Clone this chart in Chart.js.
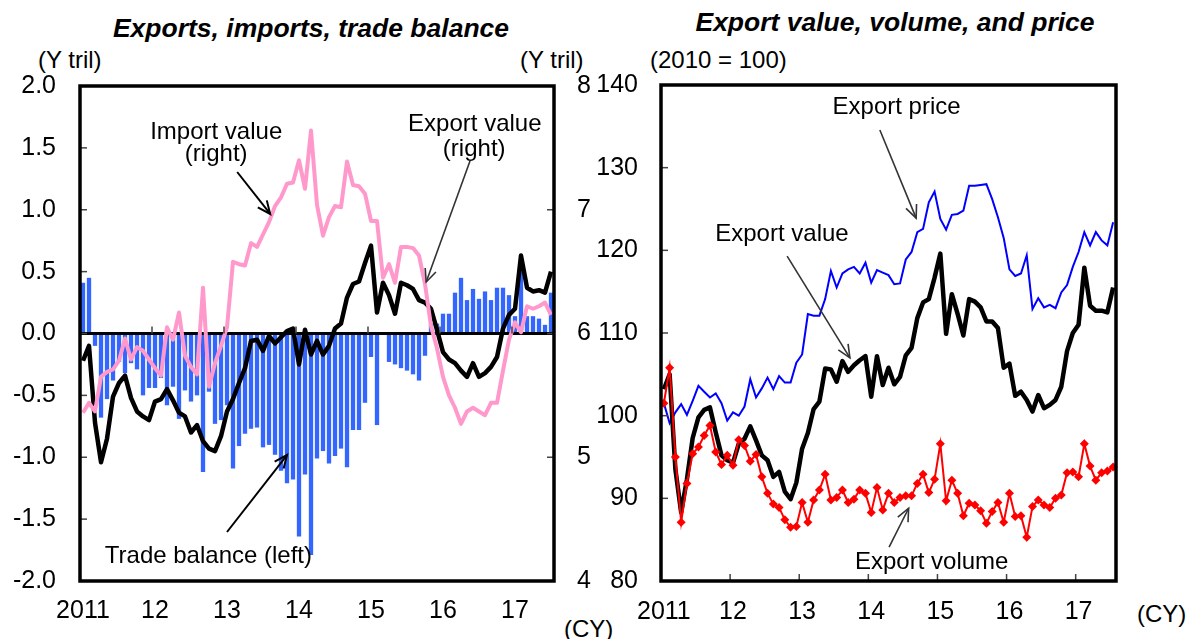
<!DOCTYPE html>
<html>
<head>
<meta charset="utf-8">
<script src="https://cdn.jsdelivr.net/npm/chart.js@4.4.1/dist/chart.umd.min.js"></script>
<style>
  html,body{margin:0;padding:0;background:#fff;}
  body{position:relative;width:1187px;height:639px;overflow:hidden;font-family:"Liberation Sans",Arial,sans-serif;color:#000;}
  canvas{position:absolute;top:0;}
  #c1{left:0;}
  #c2{left:590px;}
  .t{position:absolute;white-space:nowrap;line-height:1;font-size:24px;}
  .ttl{font-size:26.5px;font-weight:bold;font-style:italic;transform:translateX(-50%);}
</style>
</head>
<body>
<div class="t ttl" style="left:311px;top:15px;">Exports, imports, trade balance</div>
<div class="t ttl" style="left:895px;top:9px;">Export value, volume, and price</div>
<div class="t" style="left:38px;top:48px;">(Y tril)</div>
<div class="t" style="left:520px;top:48px;">(Y tril)</div>
<div class="t" style="left:650px;top:48px;">(2010 = 100)</div>
<div class="t" style="left:564px;top:617px;">(CY)</div>
<div class="t" style="left:1137px;top:602px;">(CY)</div>
<canvas id="c1" width="620" height="639"></canvas>
<canvas id="c2" width="597" height="639"></canvas>
<script>
// ---------- DATA (monthly, Jan 2011 - Jul 2017) ----------
const years = [2011, 2012, 2013, 2014, 2015, 2016, 2017];
const yearTickLabels = ['2011', '12', '13', '14', '15', '16', '17'];
const lastYearMonths = 7;

// Left panel: trade balance (left axis, Y tril)
const tradeBalance = [
  0.41, 0.45, -0.10, -0.68, -0.53, -0.38, -0.23, -0.32, -0.24, -0.29, -0.50, -0.44,
  -0.44, -0.36, -0.58, -0.43, -0.69, -0.46, -0.55, -0.50, -1.12, -0.47, -0.73, -0.70,
  -0.58, -1.09, -0.91, -0.81, -0.77, -0.76, -0.92, -0.90, -0.98, -1.11, -1.21, -1.18,
  -1.64, -1.14, -1.79, -1.01, -0.95, -1.05, -0.99, -0.93, -1.08, -0.78, -0.78, -0.56,
  -0.19, -0.74, 0.00, -0.23, -0.25, -0.28, -0.30, -0.33, -0.38, -0.18, 0.08, 0.08,
  0.16, 0.16, 0.33, 0.45, 0.27, 0.36, 0.28, 0.34, 0.27, 0.37, 0.37, 0.31,
  0.14, 0.55, 0.14, 0.14, 0.12, 0.07, 0.33
];
// Left panel: import value (right axis, Y tril)
const importValue = [
  5.36, 5.44, 5.37, 5.65, 5.69, 5.71, 5.78, 5.96, 5.79, 5.89, 5.86, 5.79,
  5.72, 5.66, 6.05, 5.95, 6.17, 5.82, 5.73, 5.67, 6.37, 5.57, 5.76, 5.90,
  6.05, 6.58, 6.56, 6.55, 6.73, 6.70, 6.80, 6.90, 7.03, 7.10, 7.21, 7.22,
  7.40, 7.17, 7.64, 7.04, 6.79, 6.94, 7.03, 7.02, 7.39, 7.20, 7.19, 7.13,
  6.91, 6.91, 6.45, 6.56, 6.41, 6.70, 6.70, 6.69, 6.63, 6.40, 6.06, 5.88,
  5.65, 5.50, 5.40, 5.27, 5.37, 5.40, 5.37, 5.34, 5.44, 5.44, 5.70, 5.95,
  6.09, 6.01, 6.22, 6.20, 6.22, 6.25, 6.15
];
// Left panel: export value (right axis, Y tril)
const exportValue = [
  5.78, 5.90, 5.28, 4.96, 5.15, 5.49, 5.60, 5.66, 5.48, 5.37, 5.33, 5.30,
  5.45, 5.47, 5.55, 5.46, 5.36, 5.33, 5.20, 5.26, 5.13, 5.07, 5.05, 5.17,
  5.37, 5.47, 5.60, 5.72, 5.94, 5.95, 5.86, 5.98, 5.92, 5.97, 6.02, 6.04,
  5.75, 6.03, 5.83, 5.94, 5.83, 5.90, 6.04, 6.08, 6.29, 6.40, 6.42, 6.57,
  6.71, 6.17, 6.41, 6.31, 6.16, 6.41, 6.39, 6.36, 6.27, 6.25, 6.20, 6.03,
  5.85, 5.79, 5.76, 5.70, 5.65, 5.76, 5.65, 5.68, 5.73, 5.81, 6.04, 6.15,
  6.20, 6.63, 6.37, 6.34, 6.35, 6.33, 6.50
];
// Right panel (2010 = 100)
const exportPriceIdx = [
  101.5, 99.1, 100.4, 101.4, 100.1, 101.8, 103.6, 102.9, 102.2, 102.7, 101.5, 99.4,
  100.4, 100.0, 101.1, 104.4, 102.2, 103.3, 104.6, 103.2, 104.8, 104.0, 104.0, 106.4,
  107.4, 112.3, 112.1, 112.1, 114.1, 117.5, 115.5, 117.2, 117.7, 118.0, 117.2, 118.5,
  116.1, 117.6, 117.3, 117.0, 115.9, 116.0, 118.9, 119.8, 122.2, 122.6, 125.8, 127.1,
  123.8, 122.5, 124.3, 124.4, 124.8, 127.8, 127.8, 127.9, 128.0, 126.2, 124.0, 121.5,
  117.7, 116.9, 117.2, 119.4, 112.9, 114.2, 113.1, 113.4, 113.0, 114.9, 115.8, 118.0,
  119.8, 122.2, 120.6, 122.2, 121.2, 120.6, 123.4
];
const exportValueIdx = [
  103.2, 105.0, 93.5, 88.3, 92.3, 97.3, 99.8, 100.7, 101.0, 98.0, 95.2, 94.6,
  94.3, 96.6, 97.2, 98.7, 97.0, 95.2, 94.6, 92.6, 93.2, 90.8, 89.9, 91.9,
  96.0, 97.9, 100.8, 101.7, 105.7, 105.6, 104.1, 106.6, 105.3, 106.1, 106.7, 107.2,
  102.3, 107.2, 103.7, 105.8, 103.8, 104.7, 107.3, 108.2, 111.8, 113.7, 114.1, 116.7,
  119.6, 109.9, 114.7, 112.3, 109.7, 114.1, 113.8, 113.1, 111.4, 111.4, 110.6, 105.8,
  106.3, 102.4, 102.9, 101.9, 100.5, 102.5, 100.9, 101.3, 101.9, 103.5, 107.8, 110.0,
  111.0, 117.9, 113.3, 112.7, 112.7, 112.5, 115.5
];
const exportVolumeIdx = [
  101.5, 105.8, 95.0, 87.1, 91.8, 95.4, 96.2, 97.6, 98.8, 95.6, 94.1, 95.2,
  94.0, 97.1, 96.4, 94.5, 95.3, 92.6, 90.6, 89.3, 88.9, 87.4, 86.5, 86.6,
  89.5, 87.1, 89.8, 91.0, 92.9, 89.8, 90.1, 91.0, 89.5, 89.9, 91.0, 90.6,
  88.3, 91.3, 88.6, 90.6, 89.5, 90.1, 90.3, 90.3, 91.8, 92.9, 90.7, 92.3,
  96.6, 89.7, 92.2, 90.6, 87.9, 89.4, 89.2, 88.5, 87.0, 88.4, 89.5, 87.1,
  90.6, 87.8, 87.9, 85.3, 89.0, 89.8, 89.2, 88.9, 90.0, 90.4, 93.1, 93.2,
  92.6, 96.6, 93.9, 92.2, 93.1, 93.3, 93.8
];

// Annotations (positions in data units: x = month index, y = axis value)
const leftNotes = [
  {text: 'Import value', x: 22.2, y: 1.57},
  {text: '(right)', x: 22.2, y: 1.39},
  {arrow: [25.7, 1.305, 31.2, 0.966], color: '#000', width: 2},
  {text: 'Export value', x: 65.3, y: 1.636},
  {text: '(right)', x: 65.2, y: 1.434},
  {arrow: [64.5, 1.394, 57.2, 0.416], color: '#333', width: 1.6},
  {text: 'Trade balance (left)', x: 20.9, y: -1.855},
  {arrow: [24.0, -1.604, 34.0, -0.982], color: '#000', width: 2}
];
const rightNotes = [
  {text: 'Export price', x: 40.4, y: 136.5},
  {arrow: [37.5, 134.55, 43.8, 123.9], color: '#333', width: 1.6},
  {text: 'Export value', x: 20.5, y: 121.13},
  {arrow: [21.4, 119.3, 32.3, 107.0], color: '#333', width: 1.6},
  {text: 'Export volume', x: 46.5, y: 81.45},
  {arrow: [39.1, 84.1, 42.5, 88.8], color: '#333', width: 1.6}
];

// ---------- categories ----------
const months = [];
years.forEach((yr, k) => {
  const n = (k === years.length - 1) ? lastYearMonths : 12;
  for (let m = 1; m <= n; m++) months.push(yr + '-' + String(m).padStart(2, '0'));
});
const xTickCb = (v, i) => (i % 12 === 0 ? yearTickLabels[i / 12] : '');

Chart.defaults.font.family = '"Liberation Sans", Arial, sans-serif';
Chart.defaults.font.size = 25;
Chart.defaults.color = '#000';

// ---------- plugins ----------
const frameTicks = {
  id: 'frameTicks',
  afterDatasetsDraw(chart, args, o) {
    const {ctx, chartArea: a, scales} = chart;
    ctx.save();
    ctx.strokeStyle = '#444';
    ctx.lineWidth = 1.5;
    const tl = 7;
    (o.yAxes || []).forEach(({id, side}) => {
      const s = scales[id];
      s.ticks.forEach(t => {
        const py = s.getPixelForValue(t.value);
        if (Math.abs(py - a.top) < 3 || Math.abs(py - a.bottom) < 3) return;
        ctx.beginPath();
        if (side === 'left') { ctx.moveTo(a.left, py); ctx.lineTo(a.left + tl, py); }
        else { ctx.moveTo(a.right, py); ctx.lineTo(a.right - tl, py); }
        ctx.stroke();
      });
    });
    const xs = scales.x;
    const baseY = o.xBase === 'zero' ? scales.y.getPixelForValue(0) : a.bottom;
    const n = chart.data.labels.length;
    for (let i = 12; i < n; i += 12) {
      const px = (xs.getPixelForValue(i - 1) + xs.getPixelForValue(i)) / 2;
      ctx.beginPath(); ctx.moveTo(px, baseY); ctx.lineTo(px, baseY - tl); ctx.stroke();
    }
    ctx.strokeStyle = '#000';
    ctx.lineWidth = 3.5;
    ctx.strokeRect(a.left, a.top, a.right - a.left, a.bottom - a.top);
    ctx.restore();
  }
};

const notes = {
  id: 'notes',
  afterDraw(chart, args, o) {
    const {ctx, scales} = chart;
    const xs = scales.x, ys = scales[o.yAxis || 'y'];
    const X = v => xs.getPixelForValue(v), Y = v => ys.getPixelForValue(v);
    ctx.save();
    ctx.font = '24px "Liberation Sans", Arial, sans-serif';
    ctx.textAlign = 'center';
    ctx.textBaseline = 'alphabetic';
    ctx.fillStyle = '#000';
    (o.items || []).forEach(it => {
      if (it.text) { ctx.fillText(it.text, X(it.x), Y(it.y)); return; }
      const [x1, y1, x2, y2] = it.arrow;
      const p1 = [X(x1), Y(y1)], p2 = [X(x2), Y(y2)];
      ctx.strokeStyle = it.color; ctx.lineWidth = it.width;
      ctx.beginPath(); ctx.moveTo(p1[0], p1[1]); ctx.lineTo(p2[0], p2[1]); ctx.stroke();
      const ang = Math.atan2(p2[1] - p1[1], p2[0] - p1[0]);
      const hl = 14, spread = 0.42;
      ctx.beginPath();
      ctx.moveTo(p2[0] - hl * Math.cos(ang - spread), p2[1] - hl * Math.sin(ang - spread));
      ctx.lineTo(p2[0], p2[1]);
      ctx.lineTo(p2[0] - hl * Math.cos(ang + spread), p2[1] - hl * Math.sin(ang + spread));
      ctx.stroke();
    });
    ctx.restore();
  }
};

// ---------- left chart ----------
new Chart(document.getElementById('c1'), {
  type: 'bar',
  data: {
    labels: months,
    datasets: [
      {type: 'line', label: 'Import value (right)', data: importValue, yAxisID: 'y2',
       borderColor: '#FF99CC', borderWidth: 4, pointRadius: 0, tension: 0, order: 1,
       borderJoinStyle: 'round'},
      {type: 'line', label: 'Export value (right)', data: exportValue, yAxisID: 'y2',
       borderColor: '#000000', borderWidth: 4.5, pointRadius: 0, tension: 0, order: 2,
       borderJoinStyle: 'round'},
      {type: 'bar', label: 'Trade balance (left)', data: tradeBalance, yAxisID: 'y',
       backgroundColor: '#3366FF', barPercentage: 0.72, categoryPercentage: 1, order: 3}
    ]
  },
  options: {
    responsive: false, animation: false, devicePixelRatio: 1,
    layout: {padding: {top: 86, left: 0, right: 0, bottom: 0}},
    plugins: {
      legend: {display: false}, tooltip: {enabled: false},
      frameTicks: {xBase: 'zero', yAxes: [{id: 'y', side: 'left'}, {id: 'y2', side: 'right'}]},
      notes: {yAxis: 'y', items: leftNotes}
    },
    scales: {
      x: {offset: true, grid: {display: false, drawTicks: false}, border: {display: false},
          ticks: {autoSkip: false, maxRotation: 0, minRotation: 0, padding: 15, callback: xTickCb},
          afterFit(s) { s.height = 58; }},
      y: {position: 'left', min: -2, max: 2,
          ticks: {stepSize: 0.5, padding: 24, callback: v => Number(v).toFixed(1)},
          grid: {drawTicks: false, lineWidth: 3,
                 color: c => (c.tick && Math.abs(c.tick.value) < 1e-9) ? '#000' : 'rgba(0,0,0,0)'},
          border: {display: false},
          afterFit(s) { s.width = 80; }},
      y2: {position: 'right', min: 4, max: 8,
           ticks: {stepSize: 1, padding: 23, callback: v => String(Math.round(v))},
           grid: {display: false, drawTicks: false}, border: {display: false},
           afterFit(s) { s.width = 66; }}
    }
  },
  plugins: [frameTicks, notes]
});

// ---------- right chart ----------
new Chart(document.getElementById('c2'), {
  type: 'line',
  data: {
    labels: months,
    datasets: [
      {label: 'Export volume', data: exportVolumeIdx, borderColor: '#FF0000', backgroundColor: '#FF0000',
       borderWidth: 2, pointStyle: 'rectRot', pointRadius: 4.5, pointBorderWidth: 0, tension: 0, order: 1},
      {label: 'Export value', data: exportValueIdx, borderColor: '#000000', borderWidth: 4.5,
       pointRadius: 0, tension: 0, order: 2, borderJoinStyle: 'round'},
      {label: 'Export price', data: exportPriceIdx, borderColor: '#0000FF', borderWidth: 2,
       pointRadius: 0, tension: 0, order: 3}
    ]
  },
  options: {
    responsive: false, animation: false, devicePixelRatio: 1,
    layout: {padding: {top: 85, left: 0, right: 71, bottom: 0}},
    plugins: {
      legend: {display: false}, tooltip: {enabled: false},
      frameTicks: {xBase: 'bottom', yAxes: [{id: 'y', side: 'left'}]},
      notes: {yAxis: 'y', items: rightNotes}
    },
    scales: {
      x: {offset: true, grid: {display: false, drawTicks: false}, border: {display: false},
          ticks: {autoSkip: false, maxRotation: 0, minRotation: 0, padding: 16, callback: xTickCb},
          afterFit(s) { s.height = 58; }},
      y: {min: 80, max: 140, ticks: {stepSize: 10, padding: 23},
          grid: {display: false, drawTicks: false}, border: {display: false},
          afterFit(s) { s.width = 71; }}
    }
  },
  plugins: [frameTicks, notes]
});
</script>
</body>
</html>
